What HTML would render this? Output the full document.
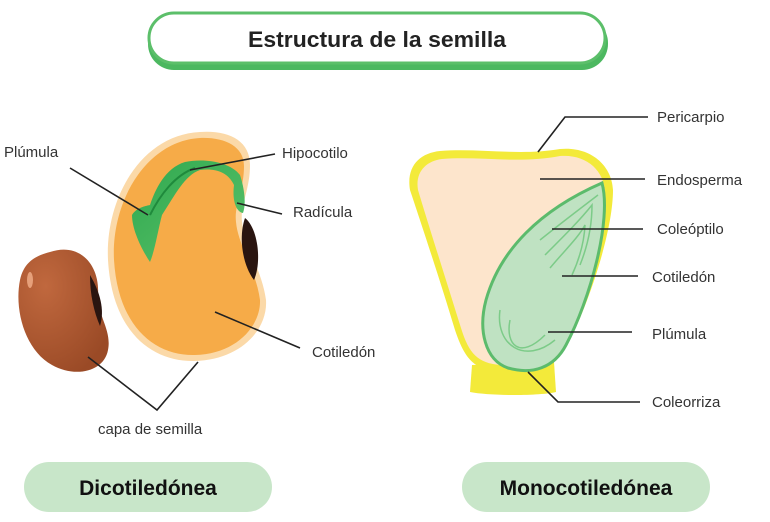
<!DOCTYPE html>
<html><head><meta charset="utf-8"><style>
html,body{margin:0;padding:0;background:#fff;}
svg{display:block;}
text{font-family:"Liberation Sans",sans-serif;fill:#333;}
</style></head><body>
<svg width="770" height="522" viewBox="0 0 770 522" xmlns="http://www.w3.org/2000/svg">
<defs>
<radialGradient id="bean" cx="0.3" cy="0.3" r="0.8"><stop offset="0" stop-color="#c0683e"/><stop offset="1" stop-color="#9a4a26"/></radialGradient>
<linearGradient id="leaf" x1="0" y1="0" x2="1" y2="1"><stop offset="0" stop-color="#2fa84f"/><stop offset="1" stop-color="#5cc26a"/></linearGradient>
</defs>
<rect x="148" y="17" width="460" height="53" rx="26" fill="#4cb860"/>
<rect x="149" y="13" width="456" height="50" rx="25" fill="#fff" stroke="#5cbf6a" stroke-width="3"/>
<text x="377" y="47" text-anchor="middle" font-size="22" font-weight="bold" style="fill:#222" textLength="258" lengthAdjust="spacingAndGlyphs">Estructura de la semilla</text>

<path d="M50,252 C80,242 100,265 98,295 C97,315 112,330 108,350 C104,372 75,378 52,365 C25,350 14,310 20,280 C24,262 35,256 50,252 Z" fill="url(#bean)"/>
<ellipse cx="30" cy="280" rx="3" ry="8" fill="#e6a07a"/>
<path d="M90,275 C100,292 105,310 100,326 C94,312 90,295 90,275 Z" fill="#2a1510"/>

<path d="M200,132 C228,130 250,140 250,165 C250,190 240,205 242,222 C244,245 262,270 266,300 C268,330 240,360 195,361 C150,362 112,330 108,260 C105,200 140,135 200,132 Z" fill="#fbd9a8"/>
<path d="M200,138 C224,137 244,146 244,166 C244,190 234,205 236,222 C238,245 256,270 260,300 C261,326 236,354 195,355 C154,356 118,326 114,260 C111,202 146,141 200,138 Z" fill="#f6ab48"/>
<path d="M245,218 C258,228 262,262 254,280 C243,266 238,238 245,218 Z" fill="#2a1510"/>
<path d="M150,205 C155,190 165,168 185,162 C205,158 230,162 240,175 C245,190 246,205 243,213 C236,212 232,200 234,185 C228,172 215,168 200,170 C185,175 175,195 162,215 C158,230 155,250 150,262 C142,250 132,230 132,215 C136,208 145,206 150,205 Z" fill="url(#leaf)"/>
<path d="M150,215 C160,195 175,175 195,168" stroke="#1f8a3c" stroke-width="2" fill="none"/>

<g stroke="#222" stroke-width="1.6" fill="none">
<line x1="70" y1="168" x2="148" y2="215"/>
<line x1="275" y1="154" x2="190" y2="170"/>
<line x1="282" y1="214" x2="237" y2="203"/>
<line x1="300" y1="348" x2="215" y2="312"/>
<polyline points="88,357 157,410 198,362"/>
</g>
<g font-size="15">
<text x="4" y="157">Plúmula</text>
<text x="282" y="158">Hipocotilo</text>
<text x="293" y="217">Radícula</text>
<text x="312" y="357">Cotiledón</text>
<text x="98" y="434">capa de semilla</text>
</g>

<path d="M472,365 L470,392 C490,396 540,396 556,392 L554,362 Z" fill="#f3ea3a"/>
<path d="M440,151 C480,148 520,156 560,149 C590,146 612,165 613,190 C613,230 590,300 570,340 C558,365 540,375 500,372 C475,370 465,360 455,330 C440,280 420,220 410,190 C406,166 420,153 440,151 Z" fill="#f3ea3a"/>
<path d="M442,159 C480,156 520,164 560,156 C586,154 604,170 605,192 C605,230 584,298 564,336 C553,360 536,367 500,365 C478,363 469,354 461,328 C446,280 427,220 418,190 C415,172 426,161 442,159 Z" fill="#fde5cc"/>
<path d="M602,183 C612,220 590,300 566,345 C554,368 532,375 508,368 C485,360 478,330 486,300 C500,250 540,210 602,183 Z" fill="#bfe2c2" stroke="#5cbb6c" stroke-width="3"/>
<g stroke="#7ccb88" stroke-width="1.5" fill="none">
<path d="M540,240 C565,220 585,205 598,195"/>
<path d="M545,255 C565,235 580,220 592,205 C592,230 586,250 580,265"/>
<path d="M550,268 C565,250 578,238 585,225 C584,245 578,262 572,275"/>
<path d="M510,320 C505,345 520,360 545,335"/>
<path d="M500,310 C495,345 525,365 555,340"/>
</g>
<g stroke="#222" stroke-width="1.6" fill="none">
<polyline points="538,152 565,117 648,117"/>
<line x1="540" y1="179" x2="645" y2="179"/>
<line x1="552" y1="229" x2="643" y2="229"/>
<line x1="562" y1="276" x2="638" y2="276"/>
<line x1="548" y1="332" x2="632" y2="332"/>
<polyline points="528,372 558,402 640,402"/>
</g>
<g font-size="15">
<text x="657" y="122">Pericarpio</text>
<text x="657" y="185">Endosperma</text>
<text x="657" y="234">Coleóptilo</text>
<text x="652" y="282">Cotiledón</text>
<text x="652" y="339">Plúmula</text>
<text x="652" y="407">Coleorriza</text>
</g>

<rect x="24" y="462" width="248" height="50" rx="25" fill="#c8e6c9"/>
<rect x="462" y="462" width="248" height="50" rx="25" fill="#c8e6c9"/>
<g font-size="21" font-weight="bold">
<text x="148" y="495" text-anchor="middle" style="fill:#111">Dicotiledónea</text>
<text x="586" y="495" text-anchor="middle" style="fill:#111">Monocotiledónea</text>
</g>
</svg>
</body></html>
